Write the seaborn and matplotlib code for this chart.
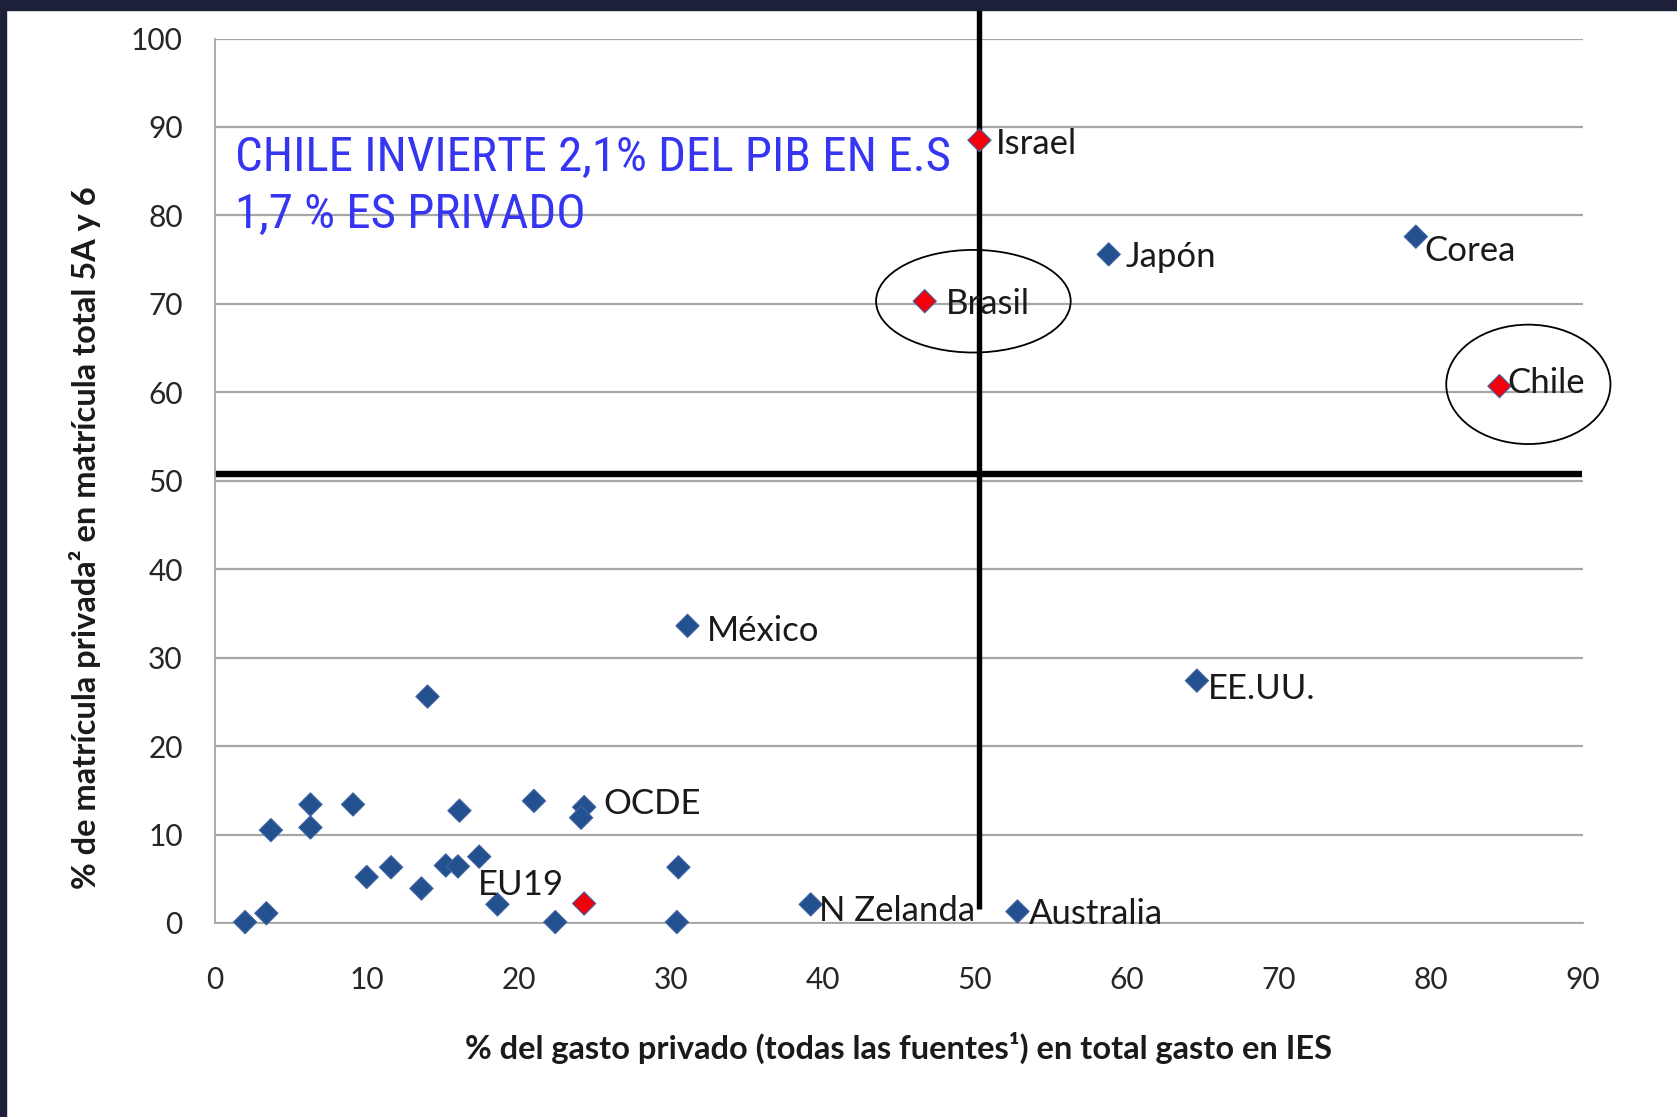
"""Gasto privado vs matrícula privada en educación superior (OCDE + Chile)."""
import numpy as np
import pandas as pd

import matplotlib
matplotlib.use("Agg")
import matplotlib.pyplot as plt
from matplotlib import font_manager
from matplotlib.patches import Ellipse, Rectangle
import seaborn as sns

sns.set_theme(style="white")
plt.rcParams["font.family"] = ["Lato", "DejaVu Sans"]

# --- data -----------------------------------------------------------------
gasto_privado = [50.3, 58.8, 79.0, 46.7, 84.5, 31.1, 64.6, 14.0, 24.3, 24.1,
                 21.0, 16.1, 9.1, 6.3, 6.3, 3.7, 10.0, 11.6, 13.6, 15.2,
                 16.0, 17.4, 18.6, 22.4, 24.3, 30.5, 30.4, 3.4, 2.0, 39.2,
                 52.8]
matricula_privada = [88.5, 75.6, 77.6, 70.3, 60.7, 33.6, 27.4, 25.6, 13.1, 11.9,
                     13.8, 12.7, 13.4, 13.4, 10.8, 10.5, 5.2, 6.3, 3.9, 6.5,
                     6.4, 7.5, 2.1, 0.1, 2.2, 6.3, 0.1, 1.1, 0.1, 2.1,
                     1.3]
etiquetas = ["Israel", "Japón", "Corea", "Brasil", "Chile", "México", "EE.UU.",
             "", "OCDE", "", "", "", "", "", "", "", "", "", "", "", "", "",
             "EU19", "", "", "", "", "", "", "N Zelanda", "Australia"]
destacado_idx = [0, 3, 4, 24]  # red markers

x_ticks = [0, 10, 20, 30, 40, 50, 60, 70, 80, 90]
y_ticks = [0, 10, 20, 30, 40, 50, 60, 70, 80, 90, 100]
corte_x = 50.3
corte_y = 50.8
mensaje = ["CHILE INVIERTE 2,1% DEL PIB EN E.S", "1,7 % ES PRIVADO"]

df = pd.DataFrame({"gasto": gasto_privado, "matricula": matricula_privada,
                   "pais": etiquetas})
df["tipo"] = ["rojo" if i in destacado_idx else "azul" for i in range(len(df))]

# label offsets in points (dx, dy)
offsets = {
    "Israel": (12, -3), "Japón": (12, -2), "Corea": (6, -10), "Brasil": (15, -2),
    "Chile": (6, 2), "México": (14, -4), "EE.UU.": (8, -6), "OCDE": (14, 2),
    "EU19": (-14, 14), "N Zelanda": (6, -5), "Australia": (8, -2),
}

BLUE = "#23508f"
RED = "#f2000c"


def narrow_font():
    """Pick a condensed sans if one is installed, else plain Roboto."""
    fonts = font_manager.fontManager.ttflist
    for want in ["Liberation Sans Narrow", "Arial Narrow", "Roboto Condensed",
                 "Noto Sans Condensed", "Open Sans Condensed",
                 "DejaVu Sans Condensed"]:
        for f in fonts:
            if f.name == want and f.style == "normal" and f.weight in (400, "normal", "regular"):
                return font_manager.FontProperties(fname=f.fname)
    for f in fonts:
        if f.name in ("Noto Sans", "Roboto", "Open Sans", "DejaVu Sans") \
                and str(f.stretch) in ("condensed", "semi-condensed") \
                and f.style == "normal" and f.weight in (400, "normal", "regular"):
            return font_manager.FontProperties(fname=f.fname)
    return font_manager.FontProperties(family="Roboto")


fig = plt.figure(figsize=(16.77, 11.17), dpi=100)
fig.patch.set_facecolor("white")
ax = fig.add_axes([0.128, 0.1737, 0.816, 0.7918])

ax.set_xlim(0, 90)
ax.set_ylim(0, 100)
ax.set_xticks(x_ticks)
ax.set_yticks(y_ticks)

ax.grid(axis="y", color="#a6a6a6", lw=1.6, zorder=0)
for s in ["top", "right"]:
    ax.spines[s].set_visible(False)
for s in ["left", "bottom"]:
    ax.spines[s].set_color("#a6a6a6")
    ax.spines[s].set_linewidth(1.3)
ax.tick_params(axis="both", direction="out", length=6, width=1.2,
               color="#a6a6a6", labelsize=21.5, labelcolor="#262626")
ax.tick_params(axis="x", pad=25)
ax.tick_params(axis="y", pad=17)

# quadrant lines
ax.plot([0, 89.9], [corte_y, corte_y], color="black", lw=4.6,
        solid_capstyle="butt", zorder=2, clip_on=False)
ax.plot([corte_x, corte_x], [1.6, 104], color="black", lw=3.9,
        solid_capstyle="butt", zorder=2, clip_on=False)

sns.scatterplot(data=df, x="gasto", y="matricula", hue="tipo",
                palette={"azul": BLUE, "rojo": RED}, marker="D", s=140,
                edgecolor="#3f63a0", linewidth=0.8, legend=False, ax=ax,
                zorder=3, clip_on=False)

for _, r in df.iterrows():
    if not r["pais"]:
        continue
    dx, dy = offsets[r["pais"]]
    ax.annotate(r["pais"], (r["gasto"], r["matricula"]), xytext=(dx, dy),
                textcoords="offset points", ha="left", va="center",
                fontsize=25, color="#1a1a1a", zorder=4)

# circles around Brasil and Chile
ax.add_patch(Ellipse((49.9, 70.3), 12.8, 11.6, fill=False, ec="black",
                     lw=1.3, zorder=5, clip_on=False))
ax.add_patch(Ellipse((86.4, 60.9), 10.8, 13.5, fill=False, ec="black",
                     lw=1.3, zorder=5, clip_on=False))

# headline text, fitted to the width it has on the slide (~716 px)
fp = narrow_font()
fp.set_size(36)
t1 = ax.text(1.35, 86.5, mensaje[0], fontproperties=fp, color="#3535f2",
             ha="left", va="center", zorder=4)
t2 = ax.text(1.35, 80.0, mensaje[1], fontproperties=fp, color="#3535f2",
             ha="left", va="center", zorder=4)
fig.canvas.draw()
w = t1.get_window_extent().width
scale = 716.0 / w
t1.set_fontsize(36 * scale)
t2.set_fontsize(36 * scale)

ax.set_xlabel("% del gasto privado (todas las fuentes¹) en total gasto en IES",
              fontsize=23.5, fontweight="bold", color="#1a1a1a")
ax.set_ylabel("% de matrícula privada² en matrícula total 5A y 6",
              fontsize=23.5, fontweight="bold", color="#1a1a1a")
ax.xaxis.set_label_coords(0.5, -0.123)
ax.yaxis.set_label_coords(-0.083, 0.436)

# dark slide border (top and left)
fig.patches.append(Rectangle((0, 1 - 10 / 1117), 1, 10 / 1117,
                             transform=fig.transFigure, color="#1c2038",
                             zorder=10))
fig.patches.append(Rectangle((0, 0), 6 / 1677, 1,
                             transform=fig.transFigure, color="#1c2038",
                             zorder=10))

fig.savefig("out.png", dpi=100)
